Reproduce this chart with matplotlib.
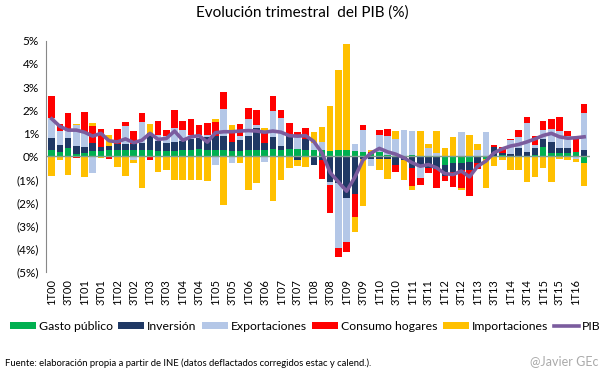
import numpy as np
import matplotlib.pyplot as plt

plt.rcParams['font.family'] = ['Lato', 'DejaVu Sans']

# trimestres 1T00 .. 2T16
trimestres = [f"{q}T{a:02d}" for a in range(0, 17) for q in range(1, 5)][:66]

# contribuciones al crecimiento (puntos porcentuales)
gasto = [0.26, 0.19, 0.35, 0.12, 0.16, 0.22, 0.23, 0.26, 0.26, 0.30,
         0.30, 0.30, 0.26, 0.23, 0.23, 0.23, 0.30, 0.30, 0.33, 0.30,
         0.30, 0.30, 0.25, 0.25, 0.30, 0.27, 0.30, 0.33, 0.26, 0.33,
         0.33, 0.30, 0.28, 0.26, 0.22, 0.29, 0.26, 0.22, 0.19, 0.10,
         0.20, 0.05, 0.04, 0.03, 0.05, 0.02, 0.04, 0.04, -0.35, -0.30,
         -0.27, -0.25, 0.04, -0.10, 0.02, 0.05, 0.02, 0.02, 0.02, 0.08,
         0.43, 0.17, 0.13, 0.13, 0.19, -0.27]
inversion = [0.52, 0.29, 0.43, 0.33, 0.25, 0.36, 0.17, 0.19, 0.26, 0.22,
             0.26, 0.29, 0.76, 0.43, 0.36, 0.39, 0.35, 0.45, 0.48, 0.55,
             0.58, 0.60, 0.38, 0.45, 0.58, 0.97, 0.29, 0.50, 0.20, 0.62,
             -0.17, 0.45, -0.35, -0.16, -1.11, -1.14, -1.80, -1.62, -0.10, -0.10,
             -0.12, -0.10, -0.35, -0.15, -0.49, -0.35, -0.49, -0.53, -0.50, -0.38,
             -0.32, -0.32, -0.27, 0.00, 0.38, 0.10, 0.08, 0.33, 0.19, 0.30,
             0.31, 0.47, 0.25, 0.25, 0.00, 0.30]
exportaciones = [0.90, 0.62, 0.32, 0.90, 0.66, -0.71, 0.00, 0.00, 0.00, 0.79,
                 -0.17, 0.92, 0.00, 0.25, 0.30, 0.62, 0.50, 0.20, 0.10, 0.10,
                 -0.36, 1.15, -0.30, 0.20, 0.72, 0.14, -0.25, 1.12, 1.21, 0.00,
                 0.50, 0.00, 0.29, 0.36, -0.12, -2.81, -1.88, 0.33, 0.94, -0.30,
                 0.75, 0.83, 0.70, 1.13, 1.05, -0.60, 0.34, 0.12, 0.00, 0.00,
                 1.05, 0.00, 0.23, 1.05, 0.00, 0.00, 0.60, 0.50, 1.24, 0.12,
                 0.40, 0.54, 0.72, 0.50, -0.13, 1.59]
consumo = [0.94, 0.29, 0.76, -0.07, 0.84, 0.72, 0.80, -0.10, 0.65, 0.20,
           0.53, 0.35, -0.15, 0.62, 0.26, 0.79, 0.38, 0.65, 0.43, 0.50,
           0.60, 0.75, 0.47, 0.50, 0.50, 0.62, 0.51, 0.68, 0.33, 0.51,
           0.25, 0.50, 0.00, -0.80, -1.20, -0.39, -0.43, -1.01, 0.24, 0.10,
           0.20, 0.29, -0.33, 0.00, -0.77, -0.30, -0.22, -0.82, -0.22, -0.65,
           -0.76, -1.15, -0.26, 0.00, 0.10, 0.25, 0.05, 0.29, 0.24, 0.38,
           0.39, 0.43, 0.62, 0.22, 0.55, 0.40]
importaciones = [-0.85, -0.16, -0.78, 0.06, -0.90, 0.15, -0.06, 0.46, -0.45, -0.85,
                 -0.10, -1.37, 0.37, -0.68, -0.60, -1.02, -1.00, -1.00, -1.00, -1.07,
                 0.15, -2.08, 0.25, -0.30, -1.45, -1.15, 0.14, -1.93, -1.00, -0.51,
                 -0.25, -0.45, 0.50, 0.65, 1.98, 3.43, 4.62, -0.65, -2.05, 0.08,
                 -0.45, -0.87, 0.36, -0.87, -0.20, 1.10, 0.18, 0.94, 0.37, 0.84,
                 -0.10, 0.95, 0.25, -1.28, -0.42, -0.15, -0.59, -0.59, -1.11, -0.90,
                 -0.49, -1.11, -0.10, -0.15, -0.12, -1.00]
pib = [1.63, 1.30, 1.14, 1.14, 1.05, 0.88, 1.00, 0.68, 0.63, 0.76,
       0.60, 0.70, 1.00, 0.74, 0.78, 1.10, 0.70, 0.85, 0.90, 0.62,
       1.03, 1.07, 1.07, 1.10, 1.12, 1.10, 1.05, 1.10, 1.05, 0.90,
       0.88, 0.90, 0.65, 0.15, -0.70, -1.10, -1.50, -0.90, -0.15, 0.15,
       0.35, 0.20, 0.10, -0.06, -0.27, -0.42, -0.35, -0.49, -0.74, -0.78,
       -0.63, -0.88, -0.42, -0.20, 0.16, 0.33, 0.45, 0.52, 0.63, 0.76,
       0.91, 1.00, 0.85, 0.79, 0.81, 0.85]

series = [("Gasto público", gasto, "#00B050"),
          ("Inversión", inversion, "#1F3864"),
          ("Exportaciones", exportaciones, "#B4C7E7"),
          ("Consumo hogares", consumo, "#FF0000"),
          ("Importaciones", importaciones, "#FFC000")]

fig = plt.figure(figsize=(6.05, 3.78), dpi=100)
ax = fig.add_axes([0.076, 0.28, 0.899, 0.612])

x = np.arange(len(trimestres))
base_pos = np.zeros(len(x))
base_neg = np.zeros(len(x))
for nombre, valores, color in series:
    v = np.array(valores)
    pos = np.where(v > 0, v, 0)
    neg = np.where(v < 0, v, 0)
    ax.bar(x, pos, 0.8, bottom=base_pos, color=color, label=nombre, linewidth=0)
    ax.bar(x, neg, 0.8, bottom=base_neg, color=color, linewidth=0)
    base_pos += pos
    base_neg += neg

ax.axhline(0, color="#7f9f8f", linewidth=1)
ax.plot(x, pib, color="#7B5C9E", linewidth=2.6, label="PIB", solid_joinstyle="round")

ax.set_xlim(-0.7, 65.7)
ax.set_ylim(-5, 5)
ax.set_yticks(range(-5, 6))
ax.set_yticklabels([f"{v}%" if v >= 0 else f"({-v}%)" for v in range(-5, 6)], fontsize=8.5)
ax.set_xticks(x[::2])
ax.set_xticklabels(trimestres[::2], rotation=90, fontsize=8)
ax.tick_params(length=0, pad=5)
for lado in ["top", "right", "bottom"]:
    ax.spines[lado].set_visible(False)
ax.spines["left"].set_color("#888888")

fig.suptitle("Evolución trimestral  del PIB (%)", y=0.985, fontsize=11)

h, l = ax.get_legend_handles_labels()
orden = [1, 2, 3, 4, 5, 0]
fig.legend([h[i] for i in orden], [l[i] for i in orden], loc="center", ncol=6,
           bbox_to_anchor=(0.505, 0.137), frameon=False, fontsize=8.8,
           handlelength=2.1, handleheight=0.55, columnspacing=0.45, handletextpad=0.25,
           borderpad=0.1)

fig.text(0.008, 0.033, "Fuente: elaboración propia a partir de INE (datos deflactados corregidos estac y calend.).",
         fontsize=6.8)
fig.text(0.99, 0.033, "@Javier GEc", fontsize=9, color="#aaaaaa", ha="right")

fig.savefig("out.png", dpi=100)
